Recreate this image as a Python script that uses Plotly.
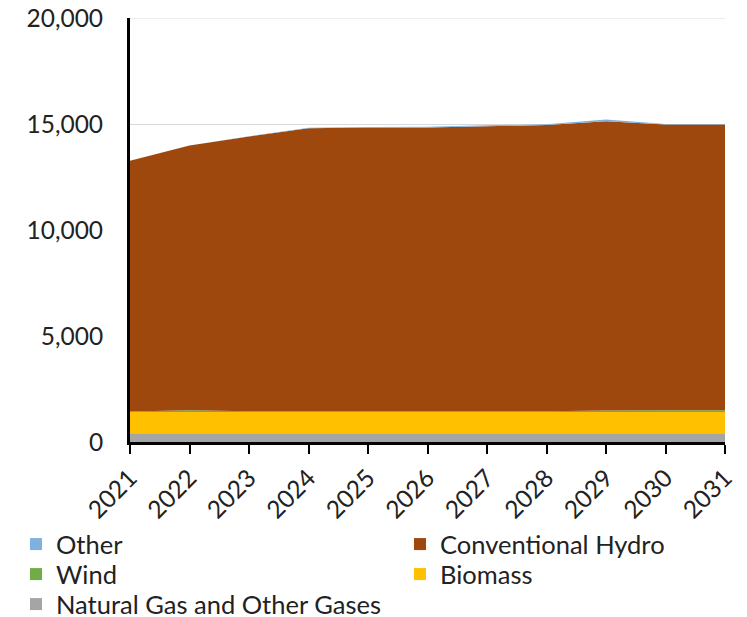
import plotly.graph_objects as go

years = [2021, 2022, 2023, 2024, 2025, 2026, 2027, 2028, 2029, 2030, 2031]
gas = [410, 410, 410, 410, 410, 410, 410, 410, 410, 410, 410]
biomass = [1000, 1000, 1000, 1000, 1000, 1000, 1000, 1000, 1000, 1000, 1000]
wind = [30, 90, 40, 40, 40, 40, 40, 40, 80, 90, 90]
hydro = [11825, 12480, 12960, 13355, 13380, 13380, 13440, 13500, 13640, 13480, 13480]
other = [0, 5, 10, 20, 30, 40, 50, 40, 80, 20, 20]
y_ticks = [0, 5000, 10000, 15000, 20000]

names = ["Natural Gas and Other Gases", "Biomass", "Wind", "Conventional Hydro", "Other"]
series = [gas, biomass, wind, hydro, other]
colors = ["#A5A5A5", "#FFC000", "#70AD47", "#9E480E", "#7EB1DF"]

FONT = "Lato"
FS = 25.5
TICKFS = 24.5
TXT = "#222222"
fig = go.Figure()
for n, s, c in zip(names, series, colors):
    fig.add_trace(go.Scatter(x=years, y=s, name=n, stackgroup="one", mode="none",
                             fillcolor=c, line=dict(width=0), showlegend=False))

# legend layout: (name, column x in container px, row index)
legend_items = [("Other", 8, 0), ("Conventional Hydro", 392, 0),
                ("Wind", 8, 1), ("Biomass", 392, 1),
                ("Natural Gas and Other Gases", 8, 2)]
row_top = [513, 543, 573]

legend_layouts = {}
for i, (n, cx, r) in enumerate(legend_items):
    key = "legend" if i == 0 else f"legend{i + 1}"
    c = colors[names.index(n)]
    fig.add_trace(go.Scatter(x=[None], y=[None], name=n, mode="markers", legend=key,
                             marker=dict(symbol="square", size=14, color=c), showlegend=True))
    legend_layouts[key] = dict(orientation="v", xref="container", yref="container",
                               xanchor="left", yanchor="top",
                               x=cx / 747, y=1 - row_top[r] / 617,
                               bgcolor="rgba(0,0,0,0)", itemsizing="constant",
                               font=dict(family=FONT, size=FS, color=TXT))

fig.update_layout(
    width=747, height=617,
    margin=dict(l=122, r=30, t=10, b=183, autoexpand=False),
    paper_bgcolor="white", plot_bgcolor="white",
    font=dict(family=FONT, size=FS, color=TXT),
    showlegend=True,
    **legend_layouts,
)
# top gridline (20,000) drawn along the plot's upper edge
fig.add_shape(type="line", xref="x domain", yref="y", x0=0, x1=1,
              y0=y_ticks[-1], y1=y_ticks[-1], line=dict(color="#D9D9D9", width=1), layer="below")
fig.update_xaxes(range=[2021, 2031], tickvals=years, ticktext=[str(y) for y in years],
                 tickangle=-45, showgrid=False, showline=True, linecolor="black", linewidth=3,
                 ticks="outside", ticklen=9, tickwidth=2, tickcolor="black", zeroline=False,
                 tickfont=dict(family=FONT, size=TICKFS, color=TXT))
fig.update_yaxes(range=[y_ticks[0], y_ticks[-1]], tickvals=y_ticks,
                 tickformat=",d", showgrid=True, gridcolor="#D9D9D9", gridwidth=1,
                 showline=True, linecolor="black", linewidth=3, zeroline=False,
                 ticks="", ticklabelstandoff=19, ticklabeloverflow="allow",
                 tickfont=dict(family=FONT, size=TICKFS, color=TXT))

fig.write_html("out.html")
